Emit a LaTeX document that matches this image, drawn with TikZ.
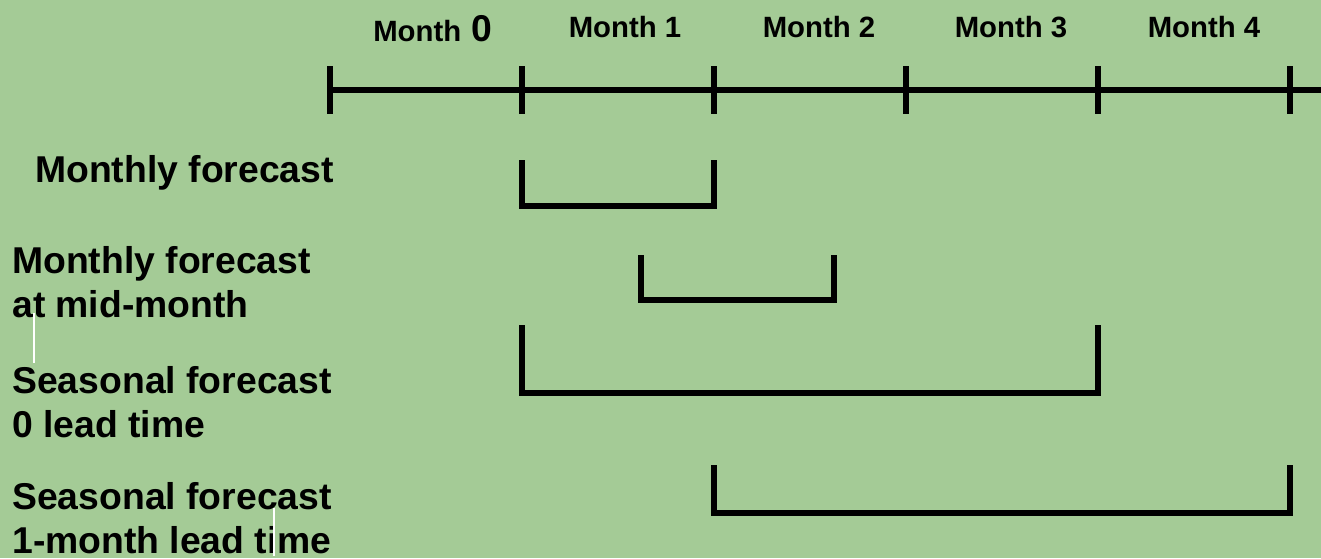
\documentclass[tikz,border=0pt]{standalone}
\usepackage{fontspec}
\setmainfont{Liberation Sans}
\definecolor{sheet}{RGB}{164,203,150}
\begin{document}
\begin{tikzpicture}[x=0.75pt,y=-0.75pt,
  axis/.style={line width=4.5pt},
  tickmark/.style={line width=4.5pt},
  bracket/.style={line width=4.5pt, line join=miter},
  monthlabel/.style={anchor=base, inner sep=0pt, font=\bfseries\fontsize{22}{26}\selectfont},
  rowlabel/.style={anchor=base west, inner sep=0pt, align=left, font=\bfseries\fontsize{28}{32.5}\selectfont},
  hairline/.style={white, line width=1.6pt}]
  % page and background
  \fill[sheet] (0,0) rectangle (1321,558);
  \useasboundingbox (0,0) rectangle (1321,558);

  % time axis with month boundaries
  \foreach \n/\x in {0/330,1/522,2/714,3/906,4/1098,5/1290}{
    \coordinate (b\n) at (\x,90);
    \draw[tickmark] (\x,66) -- (\x,114);
  }
  \coordinate (axisend) at (1324,90);
  \draw[axis] (b0) -- (axisend);

  % month names
  \node[monthlabel, anchor=base west] (m0) at (373,41) {Month};
  \node[anchor=base west, inner sep=0pt, font=\bfseries\fontsize{28}{32}\selectfont] (m0n) at ([xshift=2.5pt]m0.base east) {\,0};
  \node[monthlabel] (m1) at (625,37) {Month 1};
  \node[monthlabel] (m2) at (819,37) {Month 2};
  \node[monthlabel] (m3) at (1011,37) {Month 3};
  \node[monthlabel] (m4) at (1204,37) {Month 4};

  % forecast rows (anchored at the baseline of the last line)
  \node[rowlabel] (r1) at (35,182) {Monthly forecast};
  \node[rowlabel] (r2) at (12,317) {Monthly forecast\\at mid-month};
  \node[rowlabel] (r3) at (12,437) {Seasonal forecast\\0 lead time};
  \node[rowlabel] (r4) at (12,553) {Seasonal forecast\\1-month lead time};

  % forecast periods
  \draw[bracket] (522,160) -- (522,206) -- (714,206) -- (714,160);
  \draw[bracket] (641,255) -- (641,300) -- (834,300) -- (834,255);
  \draw[bracket] (522,325) -- (522,393) -- (1098,393) -- (1098,325);
  \draw[bracket] (714,465) -- (714,513) -- (1290,513) -- (1290,465);

  % thin white strokes
  \draw[hairline] (34,313) -- (34,363);
  \draw[hairline] (274,508) -- (274,556);
\end{tikzpicture}
\end{document}
